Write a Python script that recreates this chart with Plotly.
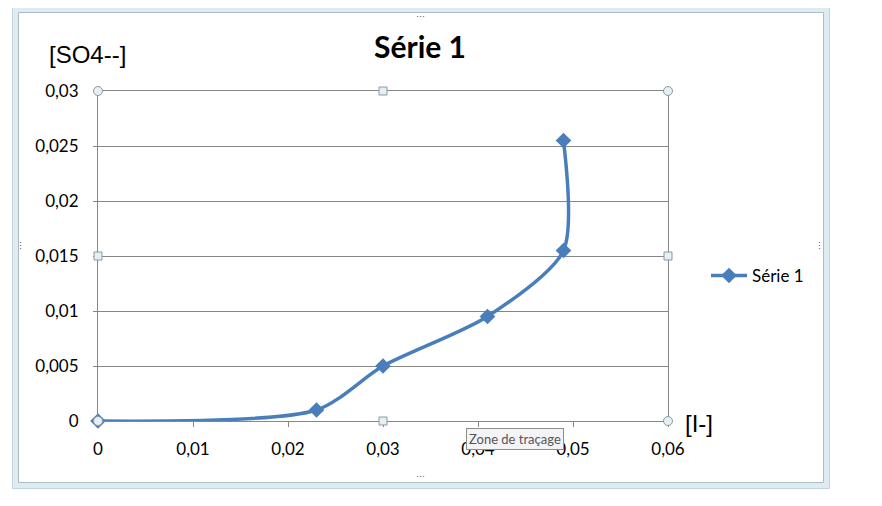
import plotly.graph_objects as go

# data
iodide = [0, 0.023, 0.030, 0.041, 0.049, 0.049]
sulfate = [0, 0.001, 0.005, 0.0095, 0.0155, 0.0255]
series_name = "Série 1"

x_ticks = [0, 0.01, 0.02, 0.03, 0.04, 0.05, 0.06]
x_labels = ["0", "0,01", "0,02", "0,03", "0,04", "0,05", "0,06"]
y_ticks = [0, 0.005, 0.01, 0.015, 0.02, 0.025, 0.03]
y_labels = ["0", "0,005", "0,01", "0,015", "0,02", "0,025", "0,03"]

BLUE = "#4a7ebb"
GRID = "#868686"
FONT = "Lato, 'Open Sans', sans-serif"

# the page body has an 8px margin, so the figure starts at (8, 8)
OFF = 8
W, H = 882 - OFF, 506 - OFF
L, R, T, B = 98, 668, 91, 421  # plot area in window pixels


def px_x(px):
    return (px - L) / (R - L)


def px_y(py):
    return (B - py) / (B - T)


fig = go.Figure()

fig.add_trace(
    go.Scatter(
        x=iodide,
        y=sulfate,
        mode="lines+markers",
        name=series_name,
        line=dict(color=BLUE, width=3.5, shape="spline", smoothing=0.75),
        marker=dict(symbol="diamond", size=12, color=BLUE),
        cliponaxis=False,
        hoverinfo="skip",
    )
)

shapes = []
# outer chart frame
shapes.append(dict(type="rect", xref="paper", yref="paper",
                   x0=px_x(15.5), x1=px_x(826.5), y0=px_y(485.5), y1=px_y(9.5),
                   line=dict(color="#dcecf2", width=5), layer="below"))
shapes.append(dict(type="rect", xref="paper", yref="paper",
                   x0=px_x(18.5), x1=px_x(823.5), y0=px_y(482.5), y1=px_y(12.5),
                   line=dict(color="#aebcc2", width=1), layer="below"))
shapes.append(dict(type="rect", xref="paper", yref="paper",
                   x0=px_x(12.5), x1=px_x(829.5), y0=px_y(488.5), y1=px_y(6.5),
                   line=dict(color="#c3d4dc", width=1), layer="below"))

# plot area selection handles
for hx in (0, 0.5, 1):
    for hy in (0, 0.5, 1):
        if hx == 0.5 and hy == 0.5:
            continue
        corner = hx != 0.5 and hy != 0.5
        shapes.append(dict(
            type="circle" if corner else "rect",
            xref="paper", yref="paper",
            xsizemode="pixel", ysizemode="pixel",
            xanchor=hx, yanchor=hy,
            x0=-4.5 if corner else -4, x1=4.5 if corner else 4,
            y0=-4.5 if corner else -4, y1=4.5 if corner else 4,
            fillcolor="#e4f0f4", line=dict(color="#8a9aa0", width=1),
            layer="above",
        ))

annotations = [
    dict(text="[SO4--]", xref="paper", yref="paper", x=px_x(87), y=px_y(55),
         xanchor="center", yanchor="middle", showarrow=False,
         font=dict(family="Liberation Sans, Arial", size=24, color="#000")),
    dict(text="[I-]", xref="paper", yref="paper", x=px_x(683), y=px_y(423),
         xanchor="left", yanchor="middle", showarrow=False,
         font=dict(family="Liberation Sans, Arial", size=24, color="#000")),
    dict(text="Zone de traçage", xref="paper", yref="paper", x=px_x(515), y=px_y(439),
         xanchor="center", yanchor="middle", showarrow=False,
         font=dict(family=FONT, size=13, color="#555"),
         bgcolor="#f4f4f6", bordercolor="#8d8d8d", borderwidth=1, borderpad=2),
]
# small dotted handles on the outer frame
for dx, dy, mark in ((420, 8, "⋯"), (420, 485, "⋯"), (14, 245, "⋮"), (826, 245, "⋮")):
    annotations.append(dict(text=mark, xref="paper", yref="paper",
                            x=px_x(dx), y=px_y(dy), showarrow=False,
                            font=dict(size=9, color="#555")))

fig.update_layout(
    width=W,
    height=H,
    paper_bgcolor="white",
    plot_bgcolor="white",
    margin=dict(l=L - OFF, r=W - (R - OFF), t=T - OFF, b=H - (B - OFF), pad=0),
    title=dict(text="<b>" + series_name + "</b>", x=(420 - OFF) / W, xanchor="center",
               y=1 - (47 - OFF) / H, yanchor="middle",
               font=dict(family=FONT, size=30, color="#000")),
    showlegend=True,
    legend=dict(x=px_x(706), y=px_y(276), xanchor="left", yanchor="middle",
                font=dict(family=FONT, size=17, color="#000"),
                bgcolor="rgba(0,0,0,0)", itemwidth=36),
    xaxis=dict(
        range=[0, 0.06],
        tickvals=x_ticks, ticktext=x_labels,
        showgrid=False, zeroline=False,
        showline=True, linecolor=GRID, linewidth=1, mirror=True,
        ticks="outside", ticklen=5, tickcolor=GRID,
        ticklabelstandoff=8,
        tickfont=dict(family=FONT, size=17, color="#000"),
        fixedrange=True,
    ),
    yaxis=dict(
        range=[0, 0.03],
        tickvals=y_ticks, ticktext=y_labels,
        showgrid=True, gridcolor=GRID, gridwidth=1, zeroline=False,
        showline=True, linecolor=GRID, linewidth=1, mirror=True,
        ticks="outside", ticklen=4, tickcolor=GRID,
        ticklabelstandoff=11,
        tickfont=dict(family=FONT, size=17, color="#000"),
        fixedrange=True,
    ),
    shapes=shapes,
    annotations=annotations,
)

fig.write_html("out.html")
